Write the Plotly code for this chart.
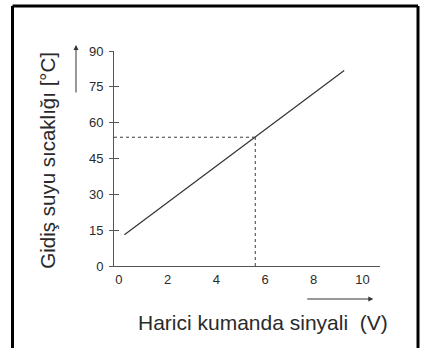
import plotly.graph_objects as go

# Data
signal_v = [0.23, 9.25]          # external control signal (V)
temp_c = [13.1, 81.8]            # flow water temperature (°C)
ref_v = 5.6                      # reference point (dotted guide)
ref_temp = 53.9
x_tickvals = [0, 2, 4, 6, 8, 10]
y_tickvals = [0, 15, 30, 45, 60, 75, 90]
x_title = "Harici kumanda sinyali\u00a0\u00a0(V)"
y_title = "Gidiş suyu sıcaklığı [°C]"

x_range = [-0.197, 10.72]
y_range = [0, 90]

LINE = "#333333"
AXIS = "#555555"
TXT = "#2a2a2a"
FONT = "Liberation Sans, Arial, Helvetica, sans-serif"

fig = go.Figure()

# dotted guide lines
fig.add_trace(go.Scatter(x=[x_range[0], ref_v], y=[ref_temp, ref_temp], mode="lines",
                         line=dict(color="#3a3a3a", width=1, dash="dot"),
                         hoverinfo="skip", showlegend=False))
fig.add_trace(go.Scatter(x=[ref_v, ref_v], y=[y_range[0], ref_temp], mode="lines",
                         line=dict(color="#3a3a3a", width=1, dash="dot"),
                         hoverinfo="skip", showlegend=False))
# main characteristic line
fig.add_trace(go.Scatter(x=signal_v, y=temp_c, mode="lines",
                         line=dict(color=LINE, width=1.2), showlegend=False))

fig.update_layout(
    width=424, height=348,
    margin=dict(l=114, r=44, t=51, b=82),
    paper_bgcolor="white", plot_bgcolor="white",
    font=dict(family=FONT, color=TXT),
    showlegend=False,
    xaxis=dict(range=x_range, tickvals=x_tickvals, showgrid=False, zeroline=False,
               showline=True, linecolor=AXIS, linewidth=1, ticks="",
               tickfont=dict(size=13, color=TXT), ticklabelstandoff=1),
    yaxis=dict(range=y_range, tickvals=y_tickvals, showgrid=False, zeroline=False,
               showline=True, linecolor=AXIS, linewidth=1, ticks="outside",
               ticklen=4, tickcolor=AXIS, tickfont=dict(size=13, color=TXT),
               ticklabelstandoff=3),
    yaxis2=dict(range=y_range, tickvals=y_tickvals, overlaying="y", side="left",
                anchor="x", showgrid=False, zeroline=False, showline=False,
                ticks="inside", ticklen=5, tickcolor=AXIS, showticklabels=False),
)

# invisible trace to activate yaxis2
fig.add_trace(go.Scatter(x=[x_range[0]], y=[y_range[0]], yaxis="y2", mode="markers",
                         marker=dict(opacity=0), hoverinfo="skip", showlegend=False))

# outer frame (open at the bottom, runs off the picture)
frame = dict(xref="paper", yref="paper", layer="above",
             line=dict(color="black", width=3))
fig.add_shape(type="line", x0=-0.3816, x1=-0.3816, y0=-0.42, y1=1.2093, **frame)
fig.add_shape(type="line", x0=1.1429, x1=1.1429, y0=-0.42, y1=1.2093, **frame)
fig.add_shape(type="line", x0=-0.3816, x1=1.1429, y0=1.2093, y1=1.2093, **frame)

# axis arrows
fig.add_annotation(x=-0.1429, y=1.0279, xref="paper", yref="paper", text="",
                   showarrow=True, ax=0, ay=49, arrowhead=2, arrowsize=1,
                   arrowwidth=1, arrowcolor=LINE)
fig.add_annotation(x=0.9748, y=-0.1535, xref="paper", yref="paper", text="",
                   showarrow=True, ax=-67.6, ay=0, arrowhead=2, arrowsize=1,
                   arrowwidth=1, arrowcolor=LINE)

# titles
fig.add_annotation(x=-0.2481, y=0.49, xref="paper", yref="paper", text=y_title,
                   showarrow=False, textangle=-90, xanchor="center", yanchor="middle",
                   font=dict(size=20.5, color=TXT, family=FONT))
fig.add_annotation(x=0.5583, y=-0.2605, xref="paper", yref="paper", text=x_title,
                   showarrow=False, xanchor="center", yanchor="middle",
                   font=dict(size=21, color=TXT, family=FONT))

fig.write_html("out.html",
               config={"displayModeBar": False},
               post_script="document.body.style.margin='0px';"
                           "document.body.style.overflow='hidden';")
